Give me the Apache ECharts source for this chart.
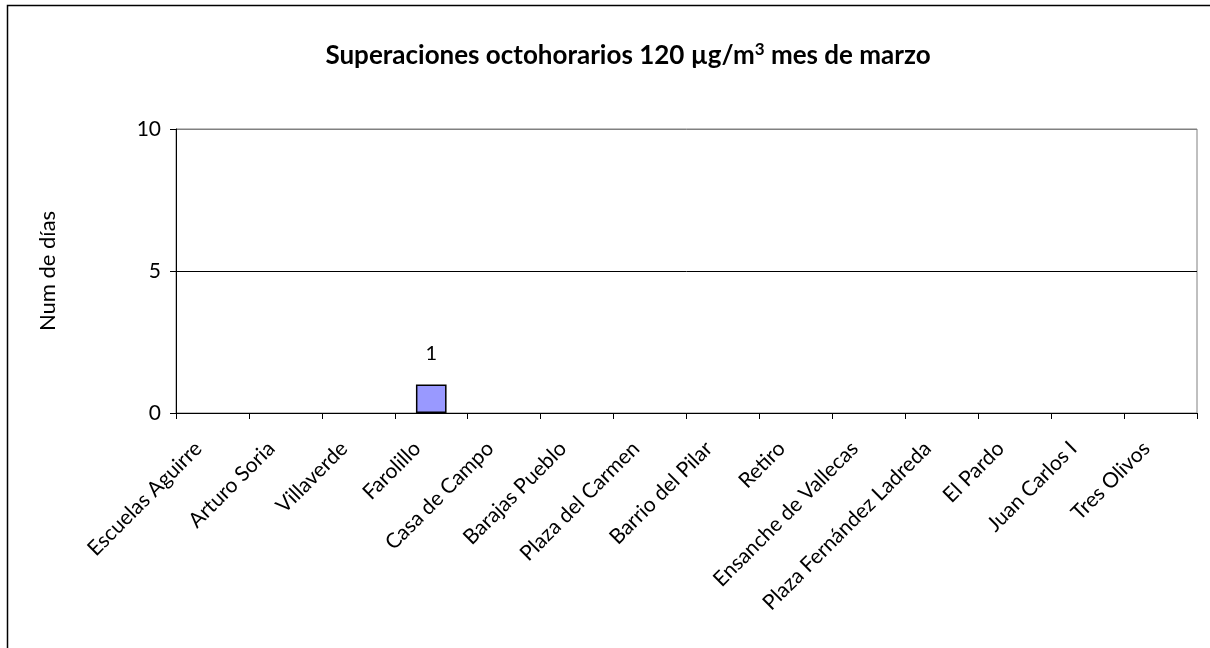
<!DOCTYPE html>
<html>
<head>
<meta charset="utf-8">
<script src="https://cdn.jsdelivr.net/npm/echarts@6/dist/echarts.min.js"></script>
<style>
  html, body { margin: 0; padding: 0; background: #fff; }
  #chart { width: 1210px; height: 648px; }
</style>
</head>
<body>
<div id="chart"></div>
<script>
// estaciones y número de días con superación
var estaciones = ['Escuelas Aguirre', 'Arturo Soria', 'Villaverde', 'Farolillo', 'Casa de Campo',
  'Barajas Pueblo', 'Plaza del Carmen', 'Barrio del Pilar', 'Retiro', 'Ensanche de Vallecas',
  'Plaza Fernández Ladreda', 'El Pardo', 'Juan Carlos I', 'Tres Olivos'];
var dias = [0, 0, 0, 1, 0, 0, 0, 0, 0, 0, 0, 0, 0, 0];
var yTicks = [0, 5, 10];

var fuente = 'Lato, "Open Sans", sans-serif';
var myChart = echarts.init(document.getElementById('chart'));

var option = {
  backgroundColor: '#fff',
  animation: false,
  textStyle: { fontFamily: fuente, color: '#000' },
  title: {
    text: '{a|Superaciones octohorarios 120 µg/m}{s|3}{a| mes de marzo}',
    left: 623,
    top: 36,
    textAlign: 'center',
    textStyle: {
      rich: {
        a: { fontFamily: fuente, fontSize: 26, fontWeight: 'bold', color: '#000', lineHeight: 30 },
        s: { fontFamily: fuente, fontSize: 17, fontWeight: 'bold', color: '#000', verticalAlign: 'top', lineHeight: 30, padding: [0, 0, 12, 0] }
      }
    }
  },
  graphic: [
    {
      // marco exterior (solo se ven los lados izquierdo y superior)
      type: 'rect',
      shape: { x: 7.5, y: 5.5, width: 1300, height: 800 },
      style: { fill: null, stroke: '#000', lineWidth: 1.5 },
      z: -1
    }
  ],
  grid: {
    left: 176,
    right: 13,
    top: 129,
    bottom: 235,
    show: true,
    borderColor: '#808080',
    borderWidth: 1
  },
  xAxis: {
    type: 'category',
    data: estaciones,
    axisLine: { lineStyle: { color: '#000', width: 1 } },
    axisTick: { show: true, length: 6, lineStyle: { color: '#000' } },
    axisLabel: {
      rotate: 45,
      interval: 0,
      fontSize: 21,
      color: '#000',
      margin: 18,
      padding: [0, 20, 0, 0]
    }
  },
  yAxis: {
    type: 'value',
    min: yTicks[0],
    max: yTicks[yTicks.length - 1],
    interval: 5,
    name: 'Num de días',
    nameLocation: 'middle',
    nameGap: 117,
    nameTextStyle: { fontSize: 22, color: '#000' },
    axisLine: { show: true, lineStyle: { color: '#000', width: 1 } },
    axisTick: { show: true, length: 6, lineStyle: { color: '#000' } },
    axisLabel: { fontSize: 21, color: '#000', margin: 15 },
    splitLine: { show: true, lineStyle: { color: ['#000', '#000', '#808080'], width: 1 } }
  },
  series: [
    {
      name: 'Días',
      type: 'bar',
      // las barras con valor 0 no se dibujan
      data: dias.map(function (v) { return v > 0 ? v : '-'; }),
      barWidth: '42%',
      itemStyle: { color: '#9999FF', borderColor: '#000', borderWidth: 1.5 },
      label: {
        show: true,
        position: 'top',
        distance: 21,
        fontSize: 20,
        color: '#000'
      }
    }
  ]
};

myChart.setOption(option);
</script>
</body>
</html>
